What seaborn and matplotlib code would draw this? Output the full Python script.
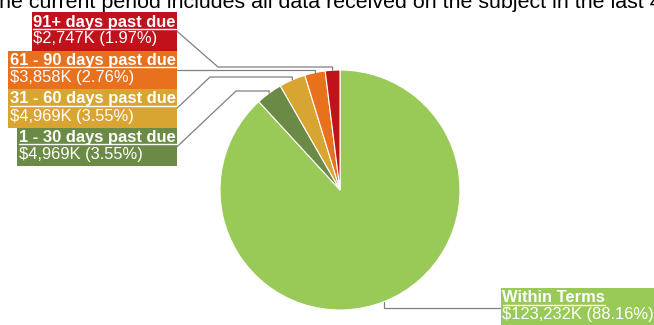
import matplotlib.pyplot as plt
import numpy as np
import seaborn as sns

# slices, clockwise from 12 o'clock
categories = ["Within Terms", "1 - 30 days past due", "31 - 60 days past due",
              "61 - 90 days past due", "91+ days past due"]
amounts = ["$123,232K", "$4,969K", "$4,969K", "$3,858K", "$2,747K"]
shares = [88.16, 3.55, 3.55, 2.76, 1.97]
colors = ["#99c957", "#6b8a46", "#d9a532", "#e8711e", "#c1121c"]

title = "The current period includes all data received on the subject in the last 48 months."

sns.set_theme(style="white")
plt.rcParams["font.family"] = ["Liberation Sans", "DejaVu Sans"]

W, H = 654, 325
fig = plt.figure(figsize=(W / 100, H / 100), dpi=100)
ax = fig.add_axes([0, 0, 1, 1])

cx, cy, r = 340, 190, 120  # pixel coords, y measured from top


def py(y):
    return H - y


ax.pie(shares, colors=colors, startangle=90, counterclock=False,
       center=(cx, py(cy)), radius=r,
       wedgeprops=dict(edgecolor="white", linewidth=0.8))
ax.set_xlim(0, W)
ax.set_ylim(0, H)
ax.set_aspect("equal")
ax.axis("off")

# anchor of each slice: middle of its arc
total = sum(shares)
cum = np.cumsum([0] + shares[:-1])
mid = np.deg2rad(90 - 360 * (cum + np.array(shares) / 2) / total)
anchors = [(cx + r * np.cos(a), py(cy) + r * np.sin(a)) for a in mid]

# label layout: box top, side ('L' = box right edge at x, 'R' = box left at x),
# elbow x (None = straight), horizontal y of the leader
layout = {
    "91+ days past due": dict(top=12, x=177, side="L", elbow=218, hy=67),
    "61 - 90 days past due": dict(top=50.5, x=177, side="L", elbow=None, hy=70),
    "31 - 60 days past due": dict(top=89, x=177, side="L", elbow=210, hy=77),
    "1 - 30 days past due": dict(top=127.5, x=177, side="L", elbow=236, hy=91),
    "Within Terms": dict(top=288, x=501, side="R", elbow=None, hy=307.5),
}
box_h = 38.5
pad = 1.5
fs = 11.9

fig.canvas.draw()
renderer = fig.canvas.get_renderer()

for cat, amt, pct, col, anc in zip(categories, amounts, shares, colors, anchors):
    lay = layout[cat]
    top = lay["top"]
    t1 = ax.text(0, py(top + 14.5), cat, color="white", fontsize=fs,
                 fontweight="bold", va="baseline", ha="left", zorder=5)
    t2 = ax.text(0, py(top + 31.5), f"{amt} ({pct:.2f}%)", color="white",
                 fontsize=fs, va="baseline", ha="left", zorder=5)
    w1 = t1.get_window_extent(renderer).width
    w2 = t2.get_window_extent(renderer).width
    bw = max(w1, w2) + 2 * pad
    left = lay["x"] - bw if lay["side"] == "L" else lay["x"]
    t1.set_x(left + pad)
    t2.set_x(left + pad)
    ax.add_patch(plt.Rectangle((left, py(top + box_h)), bw, box_h,
                               facecolor=col, edgecolor="none", zorder=4))
    ax.plot([left + pad, left + pad + w1], [py(top + 16.5), py(top + 16.5)],
            color="white", lw=1, zorder=5)

    # leader line
    ymid = top + box_h / 2
    if lay["side"] == "R" or lay["elbow"] is None:
        xs, ys = [lay["x"]], [py(lay["hy"])]
    else:
        xs = [lay["x"], lay["elbow"]]
        ys = [py(ymid), py(lay["hy"])]
    xs += [anc[0], anc[0]]
    ys += [py(lay["hy"]), anc[1]]
    ax.plot(xs, ys, color="#808080", lw=0.9, zorder=3)

ax.text(-13.5, py(8), title, fontsize=15.4, color="black", va="baseline",
        ha="left")

fig.savefig("out.png", dpi=100)
